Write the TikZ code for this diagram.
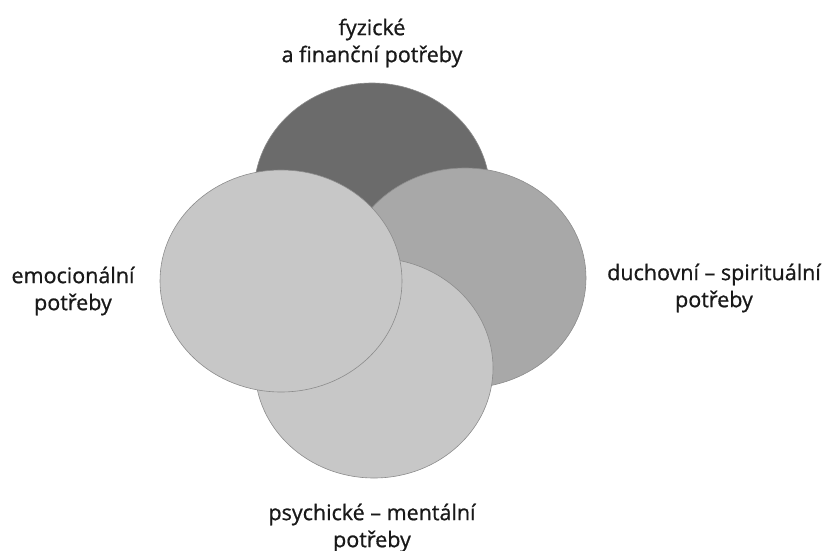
\documentclass[tikz,border=0pt]{standalone}
\usepackage{fontspec}
\setmainfont{Open Sans}[FakeBold=0.8]
\begin{document}
\begin{tikzpicture}[x=1pt,y=-1pt,
  blob/.style={draw=black!45,line width=0.6pt},
  lbl/.style={align=center,font=\fontsize{21.5}{27}\selectfont,text=black!90,inner sep=0pt}]
\useasboundingbox[fill=white] (0,0) rectangle (827,551);
\fill[blob,fill=black!58] (372,193) ellipse [x radius=118,y radius=110];
\fill[blob,fill=black!34] (465,278) ellipse [x radius=121,y radius=110];
\fill[blob,fill=black!22] (374,368) ellipse [x radius=119,y radius=110];
\fill[blob,fill=black!22] (281,281) ellipse [x radius=121,y radius=111];
\node[lbl] (top) at (372,43) {fyzické\\a finanční potřeby};
\node[lbl] (left) at (73,291) {emocionální\\potřeby};
\node[lbl] (right) at (714,288) {duchovní – spirituální\\potřeby};
\node[lbl] (bottom) at (372,528) {psychické – mentální\\potřeby};
\end{tikzpicture}
\end{document}
